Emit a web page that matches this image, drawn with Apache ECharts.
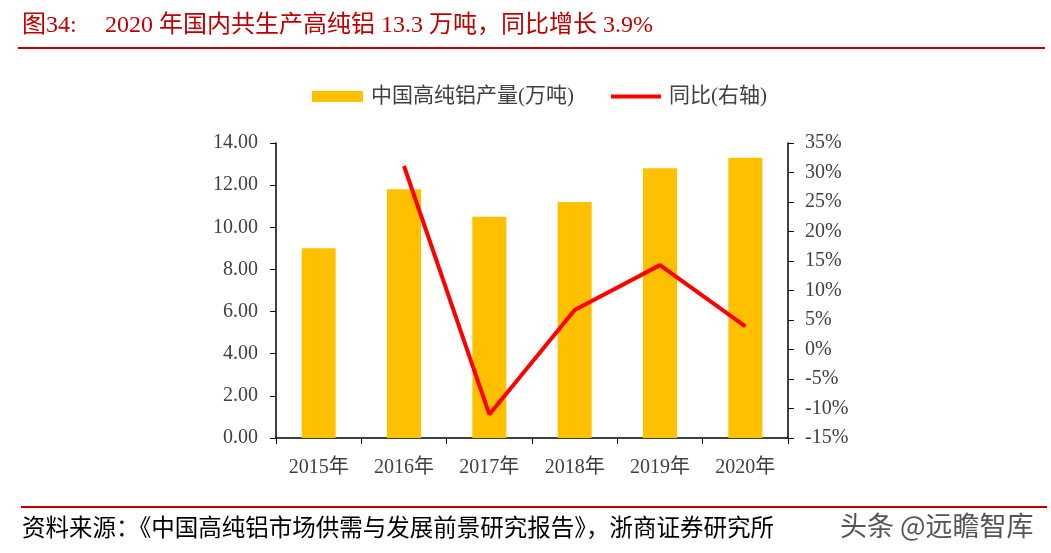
<!DOCTYPE html>
<html><head><meta charset="utf-8">
<script src="https://cdn.jsdelivr.net/npm/echarts@6/dist/echarts.min.js"></script>
<style>html,body{margin:0;padding:0;background:#fff}#c{width:1051px;height:553px}</style>
</head><body><div id="c"></div>
<script>
var categories = ['2015年','2016年','2017年','2018年','2019年','2020年'];
var output = [9.0, 11.8, 10.5, 11.2, 12.8, 13.3];
var yoy = [null, 31.1, -11.0, 6.7, 14.3, 3.9];
var leftTicks = {min: 0, max: 14, interval: 2};
var rightTicks = {min: -15, max: 35, interval: 5};

var serif = '"Liberation Serif","Noto Sans CJK SC",serif';
var chart = echarts.init(document.getElementById('c'));
chart.setOption({
  animation: false,
  backgroundColor: '#fff',
  legend: [{
    top: 81, left: 307,
    itemWidth: 51, itemHeight: 11,
    textStyle: {fontFamily: serif, fontSize: 21, color: '#404040', padding: [0, 0, 0, 3]},
    data: [{name: '中国高纯铝产量(万吨)', icon: 'rect'}]
  }, {
    top: 81, left: 606,
    itemWidth: 50, itemHeight: 4,
    textStyle: {fontFamily: serif, fontSize: 21, color: '#404040', padding: [0, 0, 0, 3]},
    data: [{name: '同比(右轴)', icon: 'rect'}]
  }],
  grid: {left: 276, right: 263, top: 143, bottom: 115},
  xAxis: {
    type: 'category', data: categories,
    axisLine: {lineStyle: {color: '#000', width: 1.5}},
    axisTick: {show: true, length: 6, lineStyle: {color: '#000'}},
    axisLabel: {fontFamily: serif, fontSize: 20, color: '#404040', margin: 20}
  },
  yAxis: [{
    type: 'value', min: leftTicks.min, max: leftTicks.max, interval: leftTicks.interval,
    axisLine: {show: true, lineStyle: {color: '#000', width: 1.5}},
    axisTick: {show: true, length: 6, lineStyle: {color: '#000'}},
    splitLine: {show: false},
    axisLabel: {fontFamily: serif, fontSize: 20, color: '#404040', margin: 18,
      formatter: function(v){return v.toFixed(2);}}
  }, {
    type: 'value', min: rightTicks.min, max: rightTicks.max, interval: rightTicks.interval,
    position: 'right',
    axisLine: {show: true, lineStyle: {color: '#000', width: 1.5}},
    axisTick: {show: true, length: 6, lineStyle: {color: '#000'}},
    splitLine: {show: false},
    axisLabel: {fontFamily: serif, fontSize: 20, color: '#404040', margin: 17,
      formatter: function(v){return v + '%';}}
  }],
  series: [{
    name: '中国高纯铝产量(万吨)', type: 'bar', data: output, barWidth: 34,
    itemStyle: {color: '#FFC000'}
  }, {
    name: '同比(右轴)', type: 'line', yAxisIndex: 1, data: yoy,
    symbol: 'none', lineStyle: {color: '#FF0000', width: 4},
    itemStyle: {color: '#FF0000'}
  }],
  graphic: [
    {type: 'text', left: 22, top: 14, style: {text: '图34:',
      font: '24px "Liberation Serif","Noto Sans CJK SC",serif', fill: '#C00000'}},
    {type: 'text', left: 105, top: 14, style: {text: '2020 年国内共生产高纯铝 13.3 万吨，同比增长 3.9%',
      font: '24px "Liberation Serif","Noto Sans CJK SC",serif', fill: '#C00000'}},
    {type: 'rect', shape: {x: 18, y: 47, width: 1027, height: 2}, style: {fill: '#C00000'}},
    {type: 'rect', shape: {x: 21, y: 506, width: 1026, height: 2}, style: {fill: '#C00000'}},
    {type: 'text', left: 22, top: 518, style: {text: '资料来源：《中国高纯铝市场供需与发展前景研究报告》，浙商证券研究所',
      font: '23.5px "Liberation Serif","Noto Sans CJK SC",serif', fill: '#000'}},
    {type: 'text', left: 840, top: 512, style: {text: '头条 @远瞻智库',
      font: '27px "Noto Sans CJK SC",sans-serif', fill: '#555'}}
  ]
});
</script></body></html>
